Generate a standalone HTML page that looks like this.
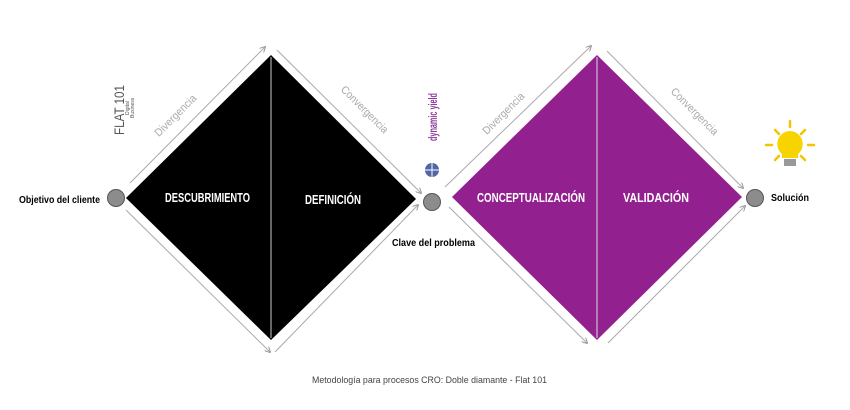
<!DOCTYPE html>
<html><head><meta charset="utf-8"><style>
html,body{margin:0;padding:0;background:#fff;width:850px;height:410px;overflow:hidden}
text{font-family:"Liberation Sans",sans-serif}
</style></head><body>
<svg width="850" height="410" viewBox="0 0 850 410" xmlns="http://www.w3.org/2000/svg">
<defs><marker id="a" markerWidth="6" markerHeight="6" refX="5" refY="3" orient="auto"><path d="M0,0 L6,3 L0,6" fill="none" stroke="#999" stroke-width="1"/></marker></defs>
<polygon points="126,198 271,55 416,199 271,340" fill="#000"/>
<line x1="271" y1="57" x2="271" y2="338" stroke="#ccc" stroke-width="1"/>
<polygon points="452,197 597,55 742,197 597,340" fill="#92208f"/>
<line x1="597" y1="57" x2="597" y2="338" stroke="#ddd" stroke-width="1"/>
<g stroke="#aaa" stroke-width="1" marker-end="url(#a)">
<line x1="130" y1="183" x2="265" y2="47"/><line x1="277" y1="50" x2="421" y2="193"/>
<line x1="126" y1="210" x2="270" y2="352"/><line x1="275" y1="352" x2="418" y2="205"/>
<line x1="445" y1="187" x2="591" y2="46"/><line x1="607" y1="51" x2="743" y2="188"/>
<line x1="449" y1="207" x2="587" y2="343"/><line x1="608" y1="343" x2="745" y2="206"/>
</g>
<g fill="#8c8c8c" stroke="#555" stroke-width="1">
<circle cx="116" cy="198" r="8.5"/><circle cx="432" cy="202" r="8.5"/><circle cx="755" cy="198" r="8.5"/>
</g>
<g fill="#aaa" font-size="11">
<text transform="translate(178,118) rotate(-45)" text-anchor="middle" textLength="54" lengthAdjust="spacingAndGlyphs">Divergencia</text>
<text transform="translate(362,112) rotate(45)" text-anchor="middle" textLength="62" lengthAdjust="spacingAndGlyphs">Convergencia</text>
<text transform="translate(506,116) rotate(-45)" text-anchor="middle" textLength="54" lengthAdjust="spacingAndGlyphs">Divergencia</text>
<text transform="translate(692,114) rotate(45)" text-anchor="middle" textLength="62" lengthAdjust="spacingAndGlyphs">Convergencia</text>
</g>
<g fill="#fff" font-size="13" font-weight="bold">
<text x="165" y="202" textLength="85" lengthAdjust="spacingAndGlyphs">DESCUBRIMIENTO</text>
<text x="305" y="204" textLength="56" lengthAdjust="spacingAndGlyphs">DEFINICIÓN</text>
<text x="477" y="202" textLength="108" lengthAdjust="spacingAndGlyphs">CONCEPTUALIZACIÓN</text>
<text x="623" y="202" textLength="66" lengthAdjust="spacingAndGlyphs">VALIDACIÓN</text>
</g>
<g font-size="10" font-weight="bold" fill="#000">
<text x="19" y="203" textLength="81" lengthAdjust="spacingAndGlyphs">Objetivo del cliente</text>
<text x="392" y="246" textLength="83" lengthAdjust="spacingAndGlyphs">Clave del problema</text>
<text x="771" y="201" textLength="38" lengthAdjust="spacingAndGlyphs">Solución</text>
</g>
<text x="312" y="383" font-size="9" fill="#444" textLength="235" lengthAdjust="spacingAndGlyphs">Metodología para procesos CRO: Doble diamante - Flat 101</text>
<text transform="translate(124,135) rotate(-90)" font-size="14" fill="#555" textLength="50" lengthAdjust="spacingAndGlyphs">FLAT 101</text>
<text transform="translate(129,115) rotate(-90)" font-size="5" fill="#555">Digital</text>
<text transform="translate(134,118) rotate(-90)" font-size="5" fill="#555">Business</text>
<text transform="translate(437,141) rotate(-90)" font-size="12" font-weight="bold" fill="#8a3d9a" textLength="48" lengthAdjust="spacingAndGlyphs">dynamic yield</text>
<circle cx="432" cy="170" r="7" fill="#5066a6"/>
<line x1="425" y1="170" x2="439" y2="170" stroke="#fff" stroke-width="1"/><line x1="432" y1="163" x2="432" y2="177" stroke="#fff" stroke-width="1"/>
<g stroke="#f2c500" stroke-width="2.5" stroke-linecap="round">
<line x1="790" y1="121" x2="790" y2="127"/><line x1="772" y1="145" x2="766" y2="145"/><line x1="808" y1="145" x2="814" y2="145"/>
<line x1="775" y1="130" x2="779" y2="134"/><line x1="805" y1="130" x2="801" y2="134"/>
<line x1="775" y1="160" x2="779" y2="156"/><line x1="805" y1="160" x2="801" y2="156"/>
</g>
<path d="M790,131 a13,13 0 0 1 8,23 l0,4 l-16,0 l0,-4 a13,13 0 0 1 8,-23z" fill="#f7d300"/>
<rect x="784" y="159" width="12" height="7" fill="#999"/>
</svg>
</body></html>
